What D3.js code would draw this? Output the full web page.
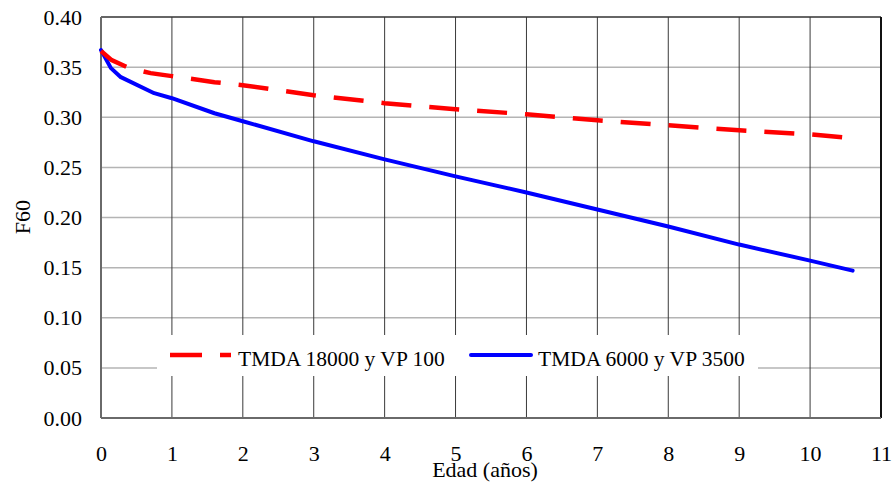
<!DOCTYPE html>
<html><head><meta charset="utf-8">
<script src="https://cdn.jsdelivr.net/npm/d3@7"></script>
<style>body{margin:0;background:#fff}svg{display:block}text{font-family:"Liberation Serif","Times New Roman",serif;fill:#000}</style>
</head><body><svg id="c" width="892" height="482"></svg>
<script>
const xTicks = [0,1,2,3,4,5,6,7,8,9,10,11];
const yTicks = [0,0.05,0.10,0.15,0.20,0.25,0.30,0.35,0.40];
const seriesNames = ["TMDA 18000 y VP 100", "TMDA 6000 y VP 3500"];
const redX = [0,0.15,0.4,0.7,1,1.6,2,3,4,5,6,7,8,9,10,10.6];
const redY = [0.366,0.357,0.349,0.344,0.341,0.335,0.332,0.322,0.314,0.308,0.303,0.297,0.292,0.287,0.283,0.279];
const blueX = [0,0.14,0.28,0.75,1,1.6,2,3,4,5,6,7,8,9,10,10.6];
const blueY = [0.367,0.349,0.340,0.324,0.319,0.304,0.296,0.276,0.258,0.241,0.225,0.208,0.191,0.173,0.157,0.147];

const svg = d3.select("#c");
const L=101, R=881, T=17, B=418;
const x = d3.scaleLinear().domain([0,11]).range([L,R]);
const y = d3.scaleLinear().domain([0,0.40]).range([B,T]);

// horizontal grid
svg.append("g").selectAll("line").data(yTicks.filter(d=>d>0&&d<0.4)).join("line")
  .attr("x1",L).attr("x2",R).attr("y1",d=>y(d)).attr("y2",d=>y(d))
  .attr("stroke","#b4b4b4").attr("stroke-width",1.5);
// vertical grid
svg.append("g").selectAll("line").data(xTicks.filter(d=>d>0&&d<11)).join("line")
  .attr("x1",d=>x(d)).attr("x2",d=>x(d)).attr("y1",T).attr("y2",B)
  .attr("stroke","#3a3a3a").attr("stroke-width",1);
// frame
svg.append("line").attr("x1",L).attr("x2",R).attr("y1",T).attr("y2",T).attr("stroke","#333").attr("stroke-width",1.5);
svg.append("line").attr("x1",R).attr("x2",R).attr("y1",T).attr("y2",B).attr("stroke","#111").attr("stroke-width",2);
svg.append("line").attr("x1",L).attr("x2",L).attr("y1",T).attr("y2",B).attr("stroke","#6a6a6a").attr("stroke-width",2);
svg.append("line").attr("x1",L).attr("x2",R).attr("y1",B).attr("y2",B).attr("stroke","#6a6a6a").attr("stroke-width",2);

// axes labels via d3 axes
const yAxis = svg.append("g").attr("transform",`translate(${L},0)`)
  .call(d3.axisLeft(y).tickValues(yTicks).tickFormat(d3.format(".2f")).tickSize(0).tickPadding(19));
const xAxis = svg.append("g").attr("transform",`translate(0,${B})`)
  .call(d3.axisBottom(x).tickValues(xTicks).tickFormat(d3.format("d")).tickSize(0).tickPadding(27));
[yAxis,xAxis].forEach(a=>{a.select(".domain").remove();a.selectAll("text").attr("font-size",22).attr("font-family","Liberation Serif").attr("fill","#000");});

const line = d3.line().x(d=>x(d[0])).y(d=>y(d[1]));
const red = redX.map((v,i)=>[v,redY[i]]);
const blue = blueX.map((v,i)=>[v,blueY[i]]);
svg.append("path").datum(blue).attr("d",line).attr("fill","none").attr("stroke","#0000ff").attr("stroke-width",4).attr("stroke-linejoin","round").attr("stroke-linecap","round");
svg.append("path").datum(red).attr("d",line).attr("fill","none").attr("stroke","#ff0000").attr("stroke-width",4.5).attr("stroke-dasharray","30,18");

// legend
const lg = svg.append("g");
lg.append("rect").attr("x",157).attr("y",335).attr("width",601).attr("height",41).attr("fill","#fff");
lg.append("line").attr("x1",170).attr("x2",231).attr("y1",355).attr("y2",355).attr("stroke","#ff0000").attr("stroke-width",4.5).attr("stroke-dasharray","32,18");
lg.append("text").attr("x",238).attr("y",366).attr("font-size",21.5).text(seriesNames[0]);
lg.append("line").attr("x1",471).attr("x2",531).attr("y1",355).attr("y2",355).attr("stroke","#0000ff").attr("stroke-width",4).attr("stroke-linecap","round");
lg.append("text").attr("x",538).attr("y",366).attr("font-size",21.5).text(seriesNames[1]);

// axis titles
svg.append("text").attr("x",485).attr("y",477).attr("text-anchor","middle").attr("font-size",22).text("Edad (años)");
svg.append("text").attr("transform","translate(30,217) rotate(-90)").attr("text-anchor","middle").attr("font-size",22).text("F60");
</script></body></html>
